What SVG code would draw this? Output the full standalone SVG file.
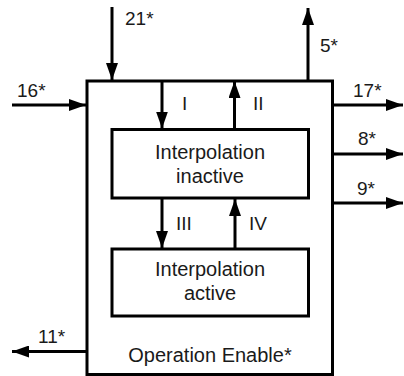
<svg xmlns="http://www.w3.org/2000/svg" width="404" height="376" viewBox="0 0 404 376">
  <style>
    .box { fill: none; stroke: #000; stroke-width: 3; }
    .conn { stroke: #000; stroke-width: 3; fill: none; marker-end: url(#arr); }
    .lbl { font-family: "Liberation Sans", Arial, sans-serif; font-size: 19px; fill: #1a1a1a; }
    .txt { font-family: "Liberation Sans", Arial, sans-serif; font-size: 20px; fill: #1a1a1a; text-anchor: middle; }
  </style>
  <defs>
    <marker id="arr" markerUnits="userSpaceOnUse" markerWidth="18" markerHeight="12" refX="17" refY="6" orient="auto">
      <path d="M0,0 L17,6 L0,12 z" fill="#000"/>
    </marker>
  </defs>
  <rect width="404" height="376" fill="#fff"/>

  <g id="operation-enable">
    <rect class="box" x="87" y="81" width="245.5" height="293.5"/>
    <text class="txt" x="210" y="362">Operation Enable*</text>
  </g>

  <g id="interpolation-inactive">
    <rect class="box" x="112" y="129.5" width="196.5" height="68.5"/>
    <text class="txt" x="210" y="159">Interpolation</text>
    <text class="txt" x="210" y="183">inactive</text>
  </g>

  <g id="interpolation-active">
    <rect class="box" x="112" y="249" width="196.5" height="67"/>
    <text class="txt" x="210" y="276">Interpolation</text>
    <text class="txt" x="210" y="299.5">active</text>
  </g>

  <g id="connectors">
    <line class="conn" x1="112" y1="7" x2="112" y2="80"/>
    <line class="conn" x1="12" y1="105" x2="86" y2="105"/>
    <line class="conn" x1="162" y1="81" x2="162" y2="128.5"/>
    <line class="conn" x1="234.5" y1="129" x2="234.5" y2="81"/>
    <line class="conn" x1="162" y1="198" x2="162" y2="248"/>
    <line class="conn" x1="235" y1="249" x2="235" y2="199"/>
    <line class="conn" x1="308" y1="81" x2="308" y2="8"/>
    <line class="conn" x1="332" y1="105" x2="403" y2="105"/>
    <line class="conn" x1="332" y1="154" x2="403" y2="154"/>
    <line class="conn" x1="332" y1="203" x2="403" y2="203"/>
    <line class="conn" x1="87" y1="351.5" x2="12" y2="351.5"/>

    <text class="lbl" x="125" y="25">21*</text>
    <text class="lbl" x="17" y="97">16*</text>
    <text class="lbl" x="182" y="110">I</text>
    <text class="lbl" x="253" y="110">II</text>
    <text class="lbl" x="176" y="230">III</text>
    <text class="lbl" x="249" y="230">IV</text>
    <text class="lbl" x="320" y="52">5*</text>
    <text class="lbl" x="353" y="97">17*</text>
    <text class="lbl" x="358" y="145">8*</text>
    <text class="lbl" x="357" y="195">9*</text>
    <text class="lbl" x="38" y="343">11*</text>
  </g>
</svg>
